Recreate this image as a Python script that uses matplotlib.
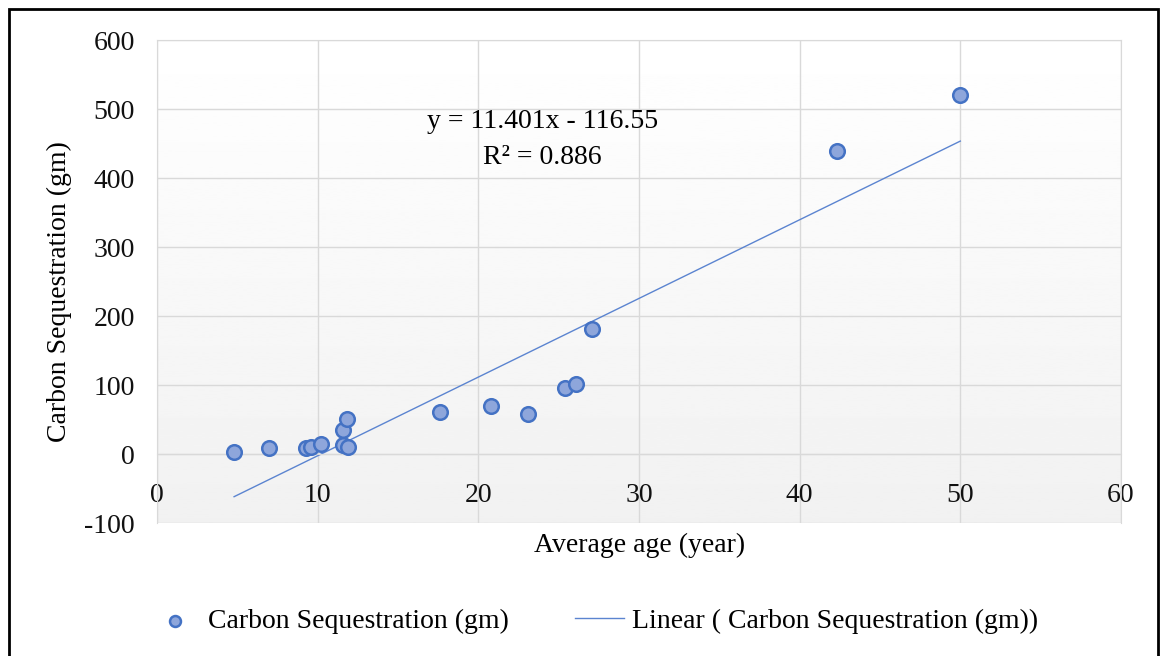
import numpy as np
import matplotlib.pyplot as plt
from matplotlib.patches import Rectangle

# average age (year) vs carbon sequestration (gm)
age = [4.8, 7.0, 9.3, 9.6, 10.2, 11.6, 11.6, 11.8, 11.9, 17.6, 20.8, 23.1, 25.4, 26.1, 27.1, 42.3, 50.0]
carbon = [3, 9, 9, 10, 14, 13, 35, 51, 10, 61, 70, 58, 96, 101, 181, 439, 520]

# Excel trendline shown on the chart
slope = 11.401
intercept = -116.55
r2 = 0.886

plt.rcParams['font.family'] = ['Liberation Serif', 'DejaVu Serif']
plt.rcParams['axes.unicode_minus'] = False

fig = plt.figure(figsize=(11.61, 6.56), dpi=100)
ax = fig.add_axes([0.1352, 0.2027, 0.8303, 0.7363])

# soft vertical gradient in plot area
grad = np.linspace(1.0, 0.945, 256).reshape(-1, 1)
ax.imshow(grad, cmap='gray', vmin=0, vmax=1, extent=[0, 60, -100, 600],
          aspect='auto', zorder=0, origin='upper')

ax.set_xlim(0, 60)
ax.set_ylim(-100, 600)
ax.set_xticks(range(0, 61, 10))
ax.set_yticks(range(-100, 601, 100))
ax.grid(True, color='#d9d9d9', linewidth=1, zorder=1)
for s in ax.spines.values():
    s.set_color('#d9d9d9')
# horizontal axis crosses at y = 0 like in Excel
ax.spines['bottom'].set_position(('data', 0))
ax.tick_params(length=0, labelsize=20, labelcolor='#111111')
ax.tick_params(axis='x', pad=21)
ax.tick_params(axis='y', pad=16)

ax.scatter(age, carbon, s=110, facecolor='#8ea6db', edgecolor='#4472c4',
           linewidth=1.8, zorder=3, label='Carbon Sequestration (gm)')

xs = np.array([min(age), max(age)])
ax.plot(xs, slope * xs + intercept, color='#5b84d0', linewidth=1, zorder=2,
        label='Linear ( Carbon Sequestration (gm))')

ax.text(24.0, 482, f'y = {slope}x - {abs(intercept)}', ha='center', va='center', fontsize=20)
ax.text(24.0, 430, f'R² = {r2}', ha='center', va='center', fontsize=20)

ax.set_xlabel('Average age (year)', fontsize=20)
ax.set_ylabel('Carbon Sequestration (gm)', fontsize=20)
ax.xaxis.set_label_coords(0.501, -0.02)
ax.yaxis.set_label_coords(-0.088, 0.48)

fig.legend(loc='center', bbox_to_anchor=(0.512, 0.053), ncol=2, frameon=False,
           fontsize=20, columnspacing=2.4, handlelength=1.75, handletextpad=0.3,
           markerscale=0.75)

fig.add_artist(Rectangle((0.008, -0.01), 0.989, 0.997, transform=fig.transFigure,
                         fill=False, edgecolor='black', linewidth=2))

fig.savefig('out.png', dpi=100)
